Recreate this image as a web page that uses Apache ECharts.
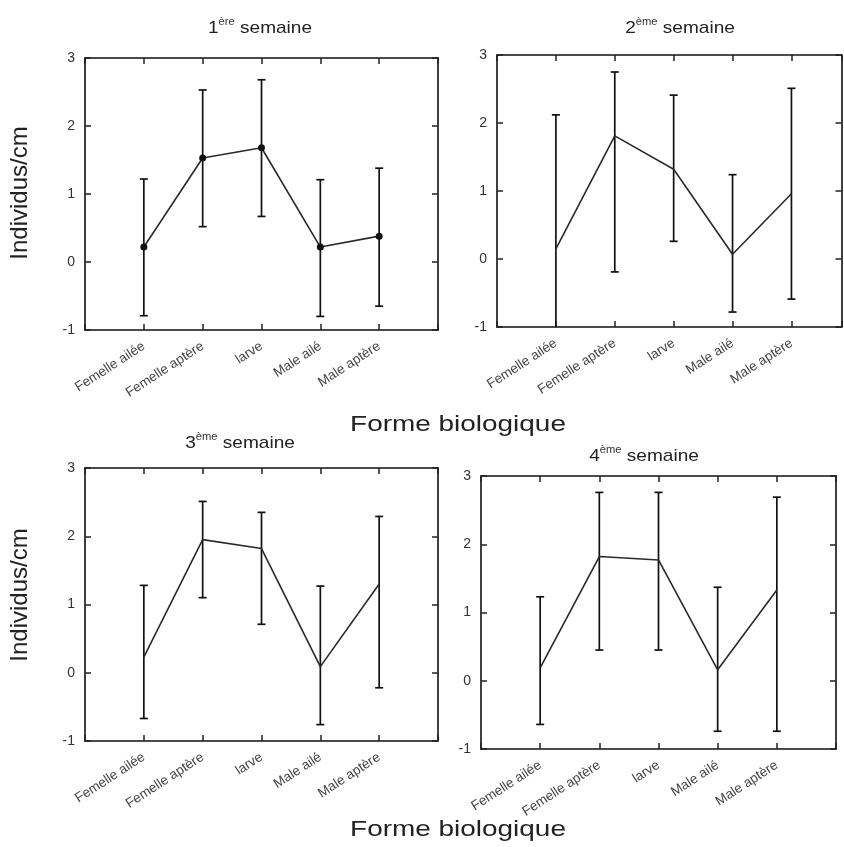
<!DOCTYPE html>
<html>
<head>
<meta charset="utf-8">
<script src="https://cdn.jsdelivr.net/npm/echarts@6/dist/echarts.min.js"></script>
<style>html,body{margin:0;padding:0;background:#fff;}#c{width:844px;height:847px;}</style>
</head>
<body>
<div id="c"></div>
<script>
const categories = ['Femelle ailée', 'Femelle aptère', 'larve', 'Male ailé', 'Male aptère'];
const yTicks = [-1, 0, 1, 2, 3];

const week1Mean = [0.22, 1.53, 1.68, 0.22, 0.38];
const week1Low  = [-0.79, 0.52, 0.67, -0.80, -0.65];
const week1High = [1.22, 2.53, 2.68, 1.21, 1.38];

const week2Mean = [0.15, 1.81, 1.32, 0.07, 0.96];
const week2Low  = [-1.80, -0.19, 0.26, -0.78, -0.59];
const week2High = [2.12, 2.75, 2.41, 1.24, 2.51];

const week3Mean = [0.23, 1.95, 1.82, 0.09, 1.30];
const week3Low  = [-0.67, 1.10, 0.71, -0.76, -0.22];
const week3High = [1.28, 2.51, 2.35, 1.27, 2.29];

const week4Mean = [0.19, 1.82, 1.77, 0.16, 1.33];
const week4Low  = [-0.64, 0.45, 0.45, -0.74, -0.74];
const week4High = [1.23, 2.76, 2.76, 1.37, 2.69];

const titles = [['1', 'ère'], ['2', 'ème'], ['3', 'ème'], ['4', 'ème']];
const xName = 'Forme biologique';
const yName = 'Individus/cm';

const weeks = [
  {mean: week1Mean, low: week1Low, high: week1High, dots: true},
  {mean: week2Mean, low: week2Low, high: week2High, dots: false},
  {mean: week3Mean, low: week3Low, high: week3High, dots: false},
  {mean: week4Mean, low: week4Low, high: week4High, dots: false}
];

// layout
const grids = [
  {left: 85, top: 58, width: 353, height: 272},
  {left: 497, top: 55, width: 346, height: 272},
  {left: 85, top: 468, width: 353, height: 273},
  {left: 481, top: 476, width: 355, height: 273}
];
const xMax = [6, 5.85, 6, 6];
const titlePos = [[260, 27], [680, 27], [240, 442], [644, 455]];

const FONT = 'Liberation Sans, Arial, sans-serif';
const lineC = '#111';

function errRender(params, api) {
  const x = api.value(0), lo = api.value(1), hi = api.value(2);
  const cs = params.coordSys;
  const top = cs.y, bottom = cs.y + cs.height;
  const p1 = api.coord([x, hi]), p2 = api.coord([x, lo]);
  const w = 4;
  const st = {stroke: lineC, lineWidth: 1.7};
  const children = [];
  let capTop = true, capBot = true;
  let y1 = p1[1], y2 = p2[1];
  if (y1 < top) { y1 = top; capTop = false; }
  if (y2 > bottom) { y2 = bottom; capBot = false; }
  children.push({type: 'line', shape: {x1: p1[0], y1: y1, x2: p2[0], y2: y2}, style: st});
  if (capTop) children.push({type: 'line', shape: {x1: p1[0] - w, y1: y1, x2: p1[0] + w, y2: y1}, style: st});
  if (capBot) children.push({type: 'line', shape: {x1: p2[0] - w, y1: y2, x2: p2[0] + w, y2: y2}, style: st});
  return {type: 'group', children: children};
}

const option = {
  animation: false,
  backgroundColor: '#fff',
  grid: grids.map(g => Object.assign({containLabel: false}, g)),
  xAxis: [],
  yAxis: [],
  series: [],
  graphic: []
};

grids.forEach((g, i) => {
  const tickStyle = {show: true, inside: true, length: 6, lineStyle: {color: '#222', width: 1.5}};
  const axLine = {show: true, onZero: false, lineStyle: {color: lineC, width: 1.6}};
  option.xAxis.push({
    type: 'value', gridIndex: i, position: 'bottom', min: 0, max: xMax[i], interval: 1,
    axisLine: axLine, axisTick: tickStyle, splitLine: {show: false},
    axisLabel: {
      rotate: 33, margin: 15, fontSize: 13.5, color: '#444', fontFamily: FONT,
      formatter: v => (Number.isInteger(v) && categories[v - 1]) ? categories[v - 1] : ''
    }
  });
  option.xAxis.push({
    type: 'value', gridIndex: i, position: 'top', min: 0, max: xMax[i], interval: 1,
    axisLine: axLine, axisTick: tickStyle, splitLine: {show: false}, axisLabel: {show: false}
  });
  option.yAxis.push({
    type: 'value', gridIndex: i, position: 'left', min: yTicks[0], max: yTicks[yTicks.length - 1], interval: 1,
    axisLine: axLine, axisTick: tickStyle, splitLine: {show: false},
    axisLabel: {margin: 10, fontSize: 14, color: '#333', fontFamily: FONT}
  });
  option.yAxis.push({
    type: 'value', gridIndex: i, position: 'right', min: yTicks[0], max: yTicks[yTicks.length - 1], interval: 1,
    axisLine: axLine, axisTick: tickStyle, splitLine: {show: false}, axisLabel: {show: false}
  });
  const w = weeks[i];
  option.series.push({
    type: 'line', xAxisIndex: 2 * i, yAxisIndex: 2 * i,
    data: w.mean.map((m, j) => [j + 1, m]),
    lineStyle: {color: '#2a2a2a', width: 1.6},
    symbol: w.dots ? 'circle' : 'none', symbolSize: 7,
    itemStyle: {color: '#111'}, z: 3
  });
  option.series.push({
    type: 'custom', xAxisIndex: 2 * i, yAxisIndex: 2 * i,
    renderItem: errRender,
    data: w.mean.map((m, j) => [j + 1, w.low[j], w.high[j]]),
    z: 2
  });
  option.graphic.push({
    type: 'text', x: titlePos[i][0], y: titlePos[i][1], scaleX: 1.12,
    style: {
      text: '{n|' + titles[i][0] + '}{s|' + titles[i][1] + '}{n| semaine}',
      align: 'center', verticalAlign: 'middle',
      rich: {
        n: {fontSize: 17, fontFamily: FONT, fill: '#222', lineHeight: 20, verticalAlign: 'bottom'},
        s: {fontSize: 10, fontFamily: FONT, fill: '#333', lineHeight: 12, verticalAlign: 'top'}
      }
    }
  });
});

[[458, 425], [458, 830]].forEach(p => {
  option.graphic.push({
    type: 'text', x: p[0], y: p[1], scaleX: 1.27,
    style: {text: xName, align: 'center', verticalAlign: 'middle', fontSize: 22, fontFamily: FONT, fill: '#222'}
  });
});
[[20, 193], [20, 595]].forEach(p => {
  option.graphic.push({
    type: 'text', x: p[0], y: p[1], rotation: Math.PI / 2,
    style: {text: yName, align: 'center', verticalAlign: 'middle', fontSize: 24, fontFamily: FONT, fill: '#222'}
  });
});

const chart = echarts.init(document.getElementById('c'), null, {renderer: 'canvas'});
chart.setOption(option);
</script>
</body>
</html>
